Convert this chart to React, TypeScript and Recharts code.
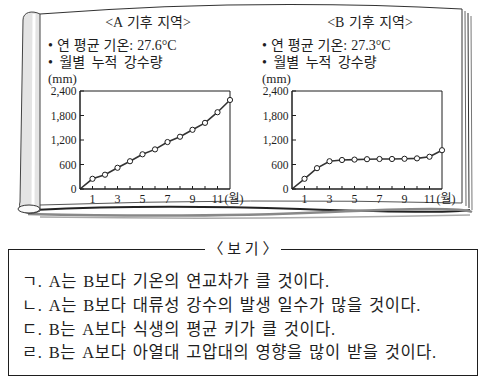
import { LineChart, Line, XAxis, YAxis, ReferenceArea } from 'recharts';

const months = [0, 1, 2, 3, 4, 5, 6, 7, 8, 9, 10, 11, 12];
const rainA = [0, 250, 350, 520, 680, 850, 970, 1150, 1280, 1450, 1620, 1880, 2180];
const rainB = [0, 250, 510, 680, 710, 720, 730, 735, 735, 740, 750, 790, 950];
const monthTicks = [1, 2, 3, 4, 5, 6, 7, 8, 9, 10, 11];
const rainTicks = [0, 600, 1200, 1800, 2400];

const FONT = '"Liberation Serif", "Noto Sans CJK KR", serif';
const INK = '#1e1e1e';

function MonthTick(props: any) {
  const { x, y, payload } = props;
  const m = payload.value;
  if (m % 2 === 0) return <g />;
  return (
    <g>
      <text x={x} y={y} dy="0.71em" textAnchor="middle" fontSize={12} fill={INK} fontFamily={FONT}>
        {m}
      </text>
      {m === 11 && (
        <text x={x + 7} y={y} dy="0.71em" textAnchor="start" fontSize={12} fill={INK} fontFamily={FONT}>
          (월)
        </text>
      )}
    </g>
  );
}

function HollowDot(props: any) {
  const { cx, cy, payload, index } = props;
  if (payload.month === 0) return <g key={index} />;
  return <circle key={index} cx={cx} cy={cy} r={2.6} fill="#fff" stroke={INK} strokeWidth={1} />;
}

function RainChart({ values }: { values: number[] }) {
  const data = months.map((m, i) => ({ month: m, rain: values[i] }));
  return (
    <LineChart width={220} height={130} data={data} margin={{ top: 11, right: 20, bottom: 0, left: 0 }}>
      <XAxis
        dataKey="month"
        type="number"
        domain={[0, 12]}
        ticks={monthTicks}
        interval={0}
        height={21}
        tickSize={-3}
        tickMargin={8}
        axisLine={{ stroke: INK }}
        tickLine={{ stroke: INK }}
        tick={<MonthTick />}
      />
      <YAxis
        type="number"
        domain={[0, 2400]}
        ticks={rainTicks}
        interval={0}
        width={50}
        tickSize={-4}
        tickMargin={7.5}
        axisLine={{ stroke: INK }}
        tickLine={{ stroke: INK }}
        tick={{ fontSize: 11.5, fill: INK, fontFamily: FONT }}
        tickFormatter={(v: number) => v.toLocaleString('en-US')}
      />
      <ReferenceArea x1={0} x2={12} y1={0} y2={2400} fill="none" stroke={INK} strokeWidth={1} />
      <Line
        dataKey="rain"
        stroke="#333"
        strokeWidth={1.6}
        dot={HollowDot}
        isAnimationActive={false}
      />
    </LineChart>
  );
}

function Label({ left, top, children, size = 14, center = false, spacing = 0 }: any) {
  return (
    <div
      style={{
        position: 'absolute',
        left: center ? left - 100 : left,
        width: center ? 200 : undefined,
        textAlign: center ? 'center' : 'left',
        top: top - 10,
        lineHeight: '20px',
        fontSize: size,
        wordSpacing: spacing,
        whiteSpace: 'nowrap',
        color: INK,
      }}
    >
      {children}
    </div>
  );
}

function BookFrame() {
  return (
    <svg width={481} height={230} style={{ position: 'absolute', left: 0, top: 0 }}>
      {/* top edge */}
      <path d="M40,14 Q250,-2 462,9" fill="none" stroke="#333" strokeWidth={1.2} />
      {/* right page edges */}
      <path d="M462,9 L462,203" fill="none" stroke="#333" strokeWidth={1} />
      <path d="M465,11 L466,206" fill="none" stroke="#666" strokeWidth={1} />
      <path d="M468,13 L469,208" fill="none" stroke="#333" strokeWidth={1} />
      <path d="M471,16 L472,210" fill="none" stroke="#777" strokeWidth={1} />
      {/* bottom edges */}
      <path d="M40,205 Q250,198 462,203" fill="none" stroke="#555" strokeWidth={1} />
      <path d="M34,210 Q150,204 300,209 T470,210" fill="none" stroke="#222" strokeWidth={2.2} />
      <path d="M28,214 Q200,218 330,212 T472,212" fill="none" stroke="#888" strokeWidth={2.5} />
      <path d="M40,217 Q250,220 470,215" fill="none" stroke="#aaa" strokeWidth={1.5} />
      {/* left roll */}
      <path
        d="M40,14 C32,10 23,12 23,20 L20,202 C17,213 30,216 40,211 L40,14 Z"
        fill="#e4e4e4"
        stroke="#444"
        strokeWidth={1}
      />
      <path d="M34,14 L33,208" fill="none" stroke="#fff" strokeWidth={3} />
      <ellipse cx={29} cy={209} rx={11} ry={4} fill="#fafafa" stroke="#333" strokeWidth={1} />
    </svg>
  );
}

const choices = [
  'ㄱ. A는 B보다 기온의 연교차가 클 것이다.',
  'ㄴ. A는 B보다 대류성 강수의 발생 일수가 많을 것이다.',
  'ㄷ. B는 A보다 식생의 평균 키가 클 것이다.',
  'ㄹ. B는 A보다 아열대 고압대의 영향을 많이 받을 것이다.',
];

export default function App() {
  return (
    <div
      style={{
        position: 'absolute',
        left: 0,
        top: 0,
        width: 481,
        height: 384,
        background: '#fff',
        fontFamily: FONT,
        overflow: 'hidden',
      }}
    >
      <BookFrame />

      <Label left={148} top={23} center spacing={1}>
        &lt;A 기후 지역&gt;
      </Label>
      <Label left={48} top={46} spacing={0.5}>• 연 평균 기온: 27.6°C</Label>
      <Label left={48} top={63} spacing={3}>• 월별 누적 강수량</Label>
      <Label left={48} top={79} size={13}>
        (mm)
      </Label>

      <Label left={370} top={23} center spacing={1}>
        &lt;B 기후 지역&gt;
      </Label>
      <Label left={262} top={46} spacing={0.5}>• 연 평균 기온: 27.3°C</Label>
      <Label left={262} top={63} spacing={3}>• 월별 누적 강수량</Label>
      <Label left={262} top={79} size={13}>
        (mm)
      </Label>

      <div style={{ position: 'absolute', left: 30, top: 80 }}>
        <RainChart values={rainA} />
      </div>
      <div style={{ position: 'absolute', left: 242, top: 80 }}>
        <RainChart values={rainB} />
      </div>

      <div
        style={{
          position: 'absolute',
          left: 8,
          top: 249,
          width: 468,
          height: 125,
          border: `1px solid ${INK}`,
        }}
      >
        <div
          style={{
            position: 'absolute',
            left: 0,
            right: 0,
            top: -11,
            textAlign: 'center',
            lineHeight: '20px',
            fontSize: 15,
          }}
        >
          <span style={{ background: '#fff', padding: '0 4px', color: INK }}>〈 보 기 〉</span>
        </div>
        {choices.map((line, i) => (
          <div
            key={i}
            style={{
              position: 'absolute',
              left: 13,
              top: 32 + i * 23.8 - 12,
              lineHeight: '24px',
              fontSize: 16.5,
              letterSpacing: 0.6,
              wordSpacing: 1.5,
              whiteSpace: 'nowrap',
              color: INK,
            }}
          >
            {line}
          </div>
        ))}
      </div>
    </div>
  );
}
